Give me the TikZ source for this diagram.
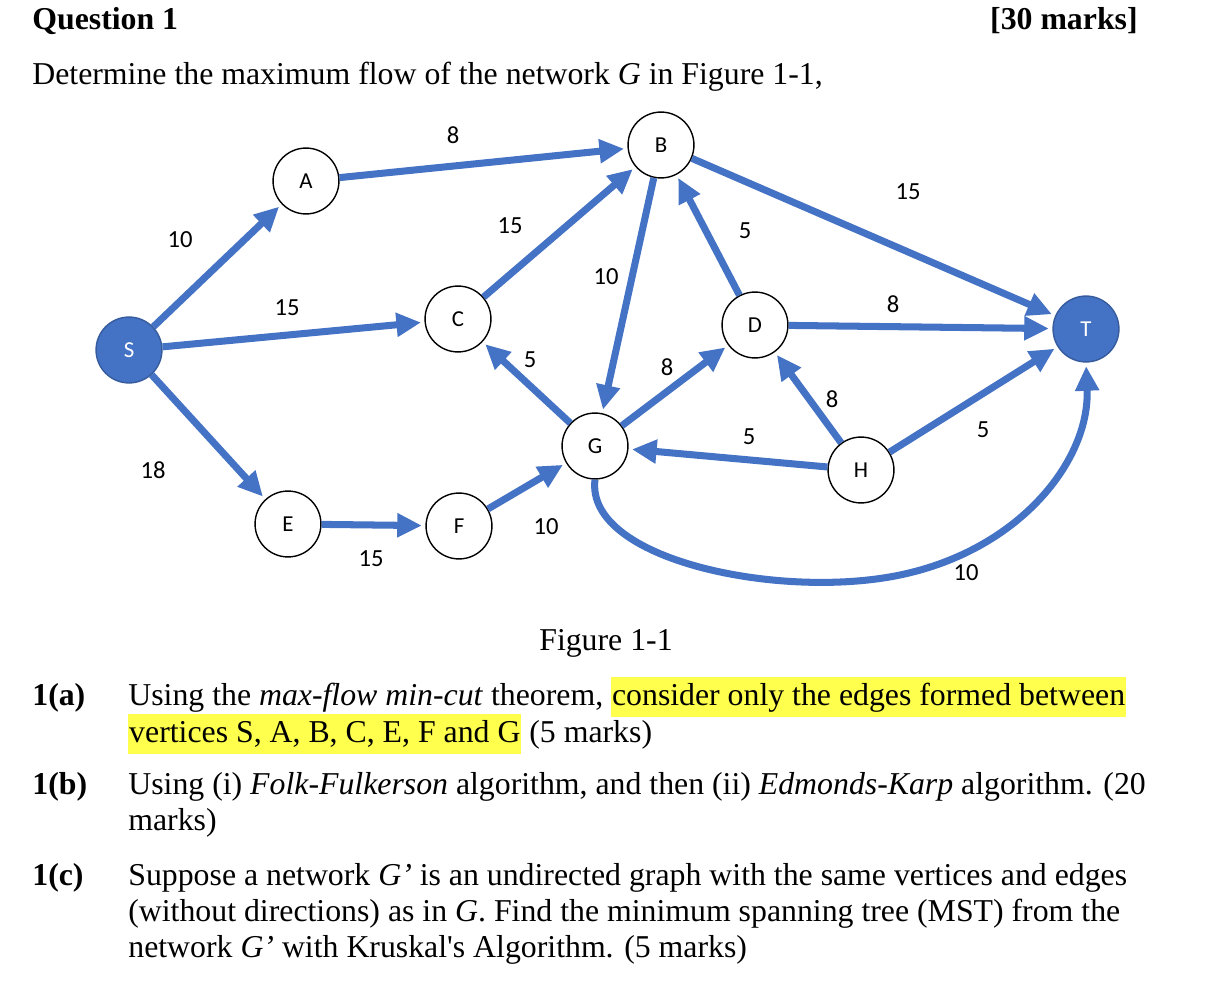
\documentclass[tikz,border=0pt]{standalone}
\usepackage{fontspec}
\setmainfont{Liberation Serif}
\newfontfamily\lblfont{Carlito}
\usetikzlibrary{arrows.meta}
\definecolor{eblue}{HTML}{4472C4}
\definecolor{hl}{HTML}{FFFF4D}
\newcommand{\hlt}[1]{{\setlength{\fboxsep}{0.5pt}\colorbox{hl}{\strut #1}}}
\begin{document}
\begin{tikzpicture}[x=0.02cm,y=-0.02cm,
  vtx/.style={circle,draw=black,fill=white,line width=0.8pt,minimum size=37.5pt,inner sep=0pt,font=\lblfont\fontsize{13}{15}\selectfont},
  src/.style={vtx,fill=eblue,draw=eblue!80!black,text=white},
  edge/.style={draw=eblue,line width=4pt,-{Triangle[length=14pt,width=13pt]},shorten >=2pt},
  lbl/.style={font=\lblfont\fontsize{14}{16}\selectfont},
  body/.style={anchor=base west,inner sep=0pt,font=\fontsize{18.1}{22}\selectfont}]
\useasboundingbox (0,0) rectangle (1207,1000);
\node[body,font=\bfseries\fontsize{18.1}{22}\selectfont] (q) at (32,30) {Question 1};
\node[body,anchor=base east,font=\bfseries\fontsize{18.1}{22}\selectfont] (m) at (1138,30) {[30 marks]};
\node[body] (det) at (32,85) {Determine the maximum flow of the network \textit{G} in Figure 1-1,};

\node[src] (S) at (129,350) {S};
\node[vtx] (A) at (306,181) {A};
\node[vtx] (B) at (661,145) {B};
\node[vtx] (C) at (458,319) {C};
\node[vtx] (D) at (755,325) {D};
\node[src] (T) at (1086,329) {T};
\node[vtx] (G) at (595,446) {G};
\node[vtx] (H) at (861,470) {H};
\node[vtx] (E) at (288,524) {E};
\node[vtx] (F) at (459,526) {F};

\draw[edge] (S) -- (A);
\draw[edge] (S) -- (C);
\draw[edge] (S) -- (E);
\draw[edge] (A) -- (B);
\draw[edge] (C) -- (B);
\draw[edge] (B) -- (G);
\draw[edge] (B) -- (T);
\draw[edge] (D) -- (B);
\draw[edge] (D) -- (T);
\draw[edge] (G) -- (C);
\draw[edge] (G) -- (D);
\draw[edge] (H) -- (D);
\draw[edge] (H) -- (G);
\draw[edge] (H) -- (T);
\draw[edge] (E) -- (F);
\draw[edge] (F) -- (G);
\draw[edge] (G.south) .. controls (585,560) and (780,600) .. (900,575) .. controls (1020,550) and (1090,460) .. (T.south);

\node[lbl] (l1) at (180,240) {10};
\node[lbl] (l2) at (287,308) {15};
\node[lbl] (l3) at (153,470) {18};
\node[lbl] (l4) at (453,135) {8};
\node[lbl] (l5) at (510,226) {15};
\node[lbl] (l6) at (606,277) {10};
\node[lbl] (l7) at (908,192) {15};
\node[lbl] (l8) at (745,231) {5};
\node[lbl] (l9) at (893,304) {8};
\node[lbl] (l10) at (530,360) {5};
\node[lbl] (l11) at (667,367) {8};
\node[lbl] (l12) at (832,399) {8};
\node[lbl] (l13) at (749,437) {5};
\node[lbl] (l14) at (983,430) {5};
\node[lbl] (l15) at (371,559) {15};
\node[lbl] (l16) at (546,527) {10};
\node[lbl] (l17) at (966,573) {10};

\node[body,anchor=base] (fig) at (606,650) {Figure 1-1};
\node[body,font=\bfseries\fontsize{18.1}{22}\selectfont] (ia) at (32,705) {1(a)};
\node[body] (a1) at (128,705) {Using the \textit{max-flow min-cut} theorem, \hlt{consider only the edges formed between}};
\node[body] (a2) at (128,742) {\hlt{vertices S, A, B, C, E, F and G} (5 marks)};
\node[body,font=\bfseries\fontsize{18.1}{22}\selectfont] (ib) at (32,794) {1(b)};
\node[body] (b1) at (128,794) {Using (i) \textit{Folk-Fulkerson} algorithm, and then (ii) \textit{Edmonds-Karp} algorithm. (20};
\node[body] (b2) at (128,830) {marks)};
\node[body,font=\bfseries\fontsize{18.1}{22}\selectfont] (ic) at (32,885) {1(c)};
\node[body] (c1) at (128,885) {Suppose a network \textit{G'} is an undirected graph with the same vertices and edges};
\node[body] (c2) at (128,921) {(without directions) as in \textit{G}. Find the minimum spanning tree (MST) from the};
\node[body] (c3) at (128,957) {network \textit{G'} with Kruskal\textquotesingle s Algorithm. (5 marks)};
\end{tikzpicture}
\end{document}
